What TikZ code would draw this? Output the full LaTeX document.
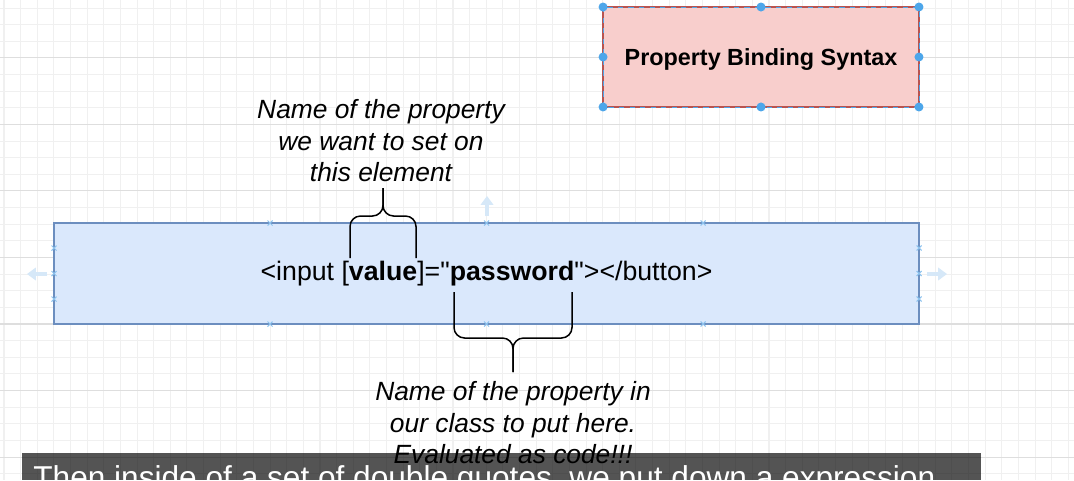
\documentclass[tikz,border=0pt]{standalone}
\usepackage{fontspec}
\setmainfont{Liberation Sans}
\usetikzlibrary{arrows.meta}
\definecolor{gridminor}{rgb}{0.94, 0.94, 0.94}
\definecolor{gridmajor}{rgb}{0.87, 0.87, 0.87}
\definecolor{redfill}{HTML}{F8CECC}
\definecolor{redline}{HTML}{B85450}
\definecolor{bluefill}{HTML}{DAE8FC}
\definecolor{blueline}{HTML}{6C8EBF}
\definecolor{handle}{HTML}{4DA6EA}
\definecolor{hover}{HTML}{D6E8F8}
\definecolor{pinblue}{HTML}{8CC2EE}

\tikzset{
	titlebox/.style={draw=redline, fill=redfill, line width=0.8pt, outer sep=0pt,
		minimum width=6.32cm, minimum height=2cm,
		font=\fontsize{13.3}{16}\selectfont\bfseries},
	codebox/.style={draw=blueline, fill=bluefill, line width=0.8pt, outer sep=0pt,
		minimum width=17.3cm, minimum height=2.02cm,
		font=\fontsize{15.2}{18}\selectfont},
	note/.style={align=center, inner sep=0pt, font=\fontsize{15}{17.9}\selectfont\itshape},
	brace/.style={line width=0.85pt, rounded corners=6pt},
	hoverarrow/.style={hover, line width=1.8pt, -{Triangle[length=5pt, width=7pt]}},
	subtitle/.style={white, inner sep=0pt, anchor=base west, font=\fontsize{18}{20}\selectfont}
}

\begin{document}
\begin{tikzpicture}[x=0.02cm, y=-0.02cm]
			\useasboundingbox (0,0) rectangle (1074,480);
			\fill [white] (0,0) rectangle (1074,480);
			% grid
			\foreach \k in {0,...,64}
				\draw [gridminor, line width=0.6pt] ({4+16.63*\k},0) -- ({4+16.63*\k},480);
			\foreach \k in {0,...,29}
				\draw [gridminor, line width=0.6pt] (0,{-8.6+16.63*\k}) -- (1074,{-8.6+16.63*\k});
			\foreach \k in {0,...,6}
				\draw [gridmajor, line width=0.6pt] (0,{57.9+66.52*\k}) -- (1074,{57.9+66.52*\k});
			% selected title box
			\node [titlebox, text depth=-5pt] (syntax) at (761,57) {Property Binding Syntax};
			\draw [handle, dashed, line width=0.4pt] (syntax.north west) rectangle (syntax.south east);
			\foreach \a in {north west, north, north east, east, south east, south, south west, west}
				\fill [handle] (syntax.\a) circle (0.09cm);
			% code box
			\node [codebox] (code) at (486.5,273.5) {<input [\textbf{value}]=\textquotedbl\textbf{password}\textquotedbl></button>};
			\foreach \p in {(54,248), (54,273.5), (54,299), (919,248), (919,273.5), (919,299),
					(270,223), (486.5,223), (703,223), (270,324), (486.5,324), (703,324)}
				\draw [pinblue, line width=0.6pt] \p +(-2.5,-2.5) -- +(2.5,2.5) +(-2.5,2.5) -- +(2.5,-2.5);
			\draw [hoverarrow] (47,274) -- (27,274);
			\draw [hoverarrow] (927,274) -- (947,274);
			\draw [hoverarrow] (487,216) -- (487,196);
			% braces
			\draw [brace] (350,258) |- (383,216) -- (383,188);
			\draw [brace] (416,258) |- (383,216) -- (383,188);
			\draw [brace] (454,292) |- (513,338) -- (513,372);
			\draw [brace] (572,292) |- (513,338) -- (513,372);
			\node [note] (setnote) at (381,141) {Name of the property\\we want to set on\\this element};
			\node [note] (classnote) at (513,423) {Name of the property in\\our class to put here.\\Evaluated as code!!!};
			% caption bar
			\fill [black, fill opacity=0.67] (22,453) rectangle (981,480);
			\node [subtitle] (caption) at (33,488) {Then inside of a set of double quotes, we put down a expression};
		\end{tikzpicture}
\end{document}
